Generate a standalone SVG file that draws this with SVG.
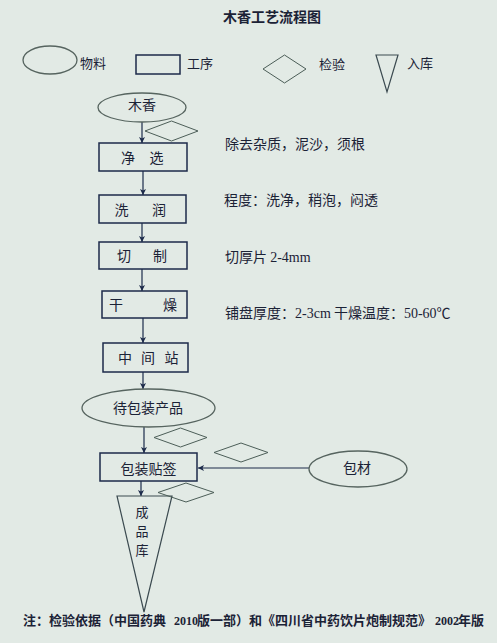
<svg xmlns="http://www.w3.org/2000/svg" width="497" height="643" viewBox="0 0 497 643">
<defs>
<style>
.bg{fill:#E2EAE5}
.t{font-family:"Noto Sans CJK SC","Liberation Sans",sans-serif;fill:#1b2236;font-size:14px}
.s{font-size:13px}
.num{font-family:"Liberation Serif",serif}
.fn{font-family:"Noto Sans CJK SC","Liberation Sans",sans-serif;fill:#1b2236;font-size:13px;font-weight:bold}
.fd{font-family:"Liberation Serif",serif;fill:#1b2236;font-size:12px;font-weight:bold}
.rect{fill:none;stroke:#1c2a4a;stroke-width:1.5}
.ell{fill:none;stroke:#56645f;stroke-width:1.3}
.dia{fill:none;stroke:#4c5e58;stroke-width:1}
.tri{fill:none;stroke:#3b4a50;stroke-width:1.2}
.con{stroke:#1c2a4a;stroke-width:1.2;fill:none}
.b{font-weight:bold}
</style>
<marker id="ah" markerUnits="userSpaceOnUse" markerWidth="7" markerHeight="7" refX="6" refY="3.5" orient="auto">
<path d="M0,0.5 L6,3.5 L0,6.5 L1.5,3.5 z" fill="#1c2a4a"/>
</marker>
</defs>
<rect class="bg" x="0" y="0" width="497" height="643"/>
<text id="title" class="t b" x="272" y="22" text-anchor="middle">木香工艺流程图</text>

<g id="legend">
<ellipse class="ell" cx="50" cy="60" rx="27" ry="14"/>
<text class="t s" x="80" y="68">物料</text>
<rect class="rect" x="136" y="55" width="44" height="19"/>
<text class="t s" x="187" y="68">工序</text>
<polygon class="dia" points="263,69 284.5,55 306,69 284.5,83"/>
<text class="t s" x="319" y="69">检验</text>
<polygon class="tri" points="376,55 398,55 387,92"/>
<text class="t s" x="407" y="68">入库</text>
</g>

<g id="connectors">
<line class="con" x1="142" y1="122" x2="142" y2="143" marker-end="url(#ah)"/>
<line class="con" x1="143" y1="171" x2="143" y2="195" marker-end="url(#ah)"/>
<line class="con" x1="142" y1="223" x2="142" y2="242" marker-end="url(#ah)"/>
<line class="con" x1="142" y1="269" x2="142" y2="291" marker-end="url(#ah)"/>
<line class="con" x1="143" y1="318" x2="143" y2="343" marker-end="url(#ah)"/>
<line class="con" x1="143" y1="372" x2="143" y2="389" marker-end="url(#ah)"/>
<line class="con" x1="144" y1="427" x2="144" y2="453" marker-end="url(#ah)"/>
<line class="con" x1="141" y1="481" x2="141" y2="496" marker-end="url(#ah)"/>
<line class="con" x1="309" y1="468" x2="198" y2="468" marker-end="url(#ah)"/>
</g>

<g id="n-muxiang">
<ellipse class="ell" cx="142" cy="107.5" rx="44" ry="14.5"/>
<text class="t" x="142" y="110" text-anchor="middle">木香</text>
</g>
<g id="q1"><polygon class="dia" points="145,131 171.5,121 198,131 171.5,141"/></g>
<g id="n-jingxuan">
<rect class="rect" x="99" y="143" width="88" height="28"/>
<text class="t" x="128 156.5" y="163" text-anchor="middle">净选</text>
</g>
<g id="n-xirun">
<rect class="rect" x="99" y="195" width="87" height="28"/>
<text class="t" x="121.5 159" y="215" text-anchor="middle">洗润</text>
</g>
<g id="n-qiezhi">
<rect class="rect" x="99" y="242" width="88" height="27"/>
<text class="t" x="124 160" y="261" text-anchor="middle">切制</text>
</g>
<g id="n-ganzao">
<rect class="rect" x="102" y="291" width="85" height="27"/>
<text class="t" x="116 170" y="310" text-anchor="middle">干燥</text>
</g>
<g id="n-zhongjianzhan">
<rect class="rect" x="103" y="343" width="85" height="29"/>
<text class="t" x="125 148 171.5" y="363" text-anchor="middle">中间站</text>
</g>
<g id="n-daibaozhuang">
<ellipse class="ell" cx="148.5" cy="408" rx="66.5" ry="19"/>
<text class="t" x="148" y="413" text-anchor="middle">待包装产品</text>
</g>
<g id="q2"><polygon class="dia" points="154,437.5 180.5,428 207,437.5 180.5,447"/></g>
<g id="q3"><polygon class="dia" points="214,452.5 241,443 268,452.5 241,462"/></g>
<g id="n-baozhuang">
<rect class="rect" x="100" y="453" width="97" height="28"/>
<text class="t" x="148.5" y="474" text-anchor="middle">包装贴签</text>
</g>
<g id="n-baocai">
<ellipse class="ell" cx="358" cy="469" rx="49" ry="18"/>
<text class="t" x="357" y="473" text-anchor="middle">包材</text>
</g>
<g id="n-chengpinku">
<polygon class="tri" points="117,496 172,496 144,612"/>
<text class="t s" x="142" y="517" text-anchor="middle">成</text>
<text class="t s" x="142" y="536" text-anchor="middle">品</text>
<text class="t s" x="142" y="555" text-anchor="middle">库</text>
</g>
<g id="q4"><polygon class="dia" points="158,492.5 186,483 214,492.5 186,502"/></g>

<g id="notes">
<text class="t" x="225" y="149">除去杂质，泥沙，须根</text>
<text class="t" x="224" y="205">程度：洗净，稍泡，闷透</text>
<text class="t" x="225" y="262">切厚片 <tspan class="num">2-4mm</tspan></text>
<text class="t" x="225" y="318">铺盘厚度：<tspan class="num">2-3cm</tspan> 干燥温度：<tspan class="num">50-60</tspan>℃</text>
</g>
<g id="footnote">
<text class="fn" x="23" y="625">注：检验依据（中国药典</text>
<text class="fd" x="174" y="625">2010</text>
<text class="fn" x="197" y="625">版一部）和《四川省中药饮片炮制规范》</text>
<text class="fd" x="435" y="625">2002</text>
<text class="fn" x="458" y="625">年版</text>
</g>
</svg>
